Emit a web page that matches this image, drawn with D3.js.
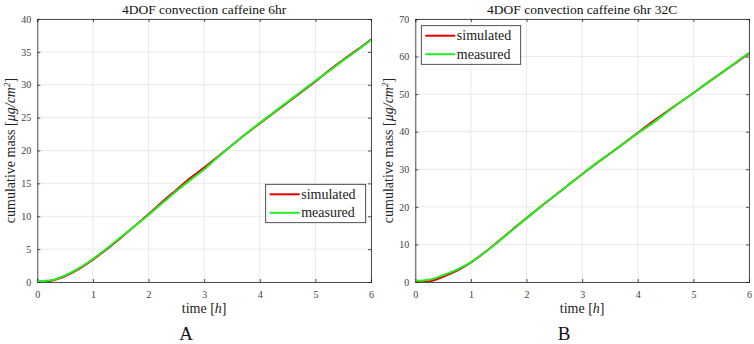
<!DOCTYPE html>
<html>
<head>
<meta charset="utf-8">
<script src="https://cdn.jsdelivr.net/npm/d3@7"></script>
<style>
  body { margin: 0; background: #fff; }
  svg { display: block; }
</style>
</head>
<body>
<svg id="chart" width="754" height="344"></svg>
<script>
const times = [0,0.25,0.5,0.75,1,1.25,1.5,1.75,2,2.25,2.5,2.75,3,3.25,3.5,3.75,4,4.25,4.5,4.75,5,5.25,5.5,5.75,6];
const simA  = [0,0.2,0.9,2.0,3.4,5.0,6.7,8.5,10.3,12.2,14.0,15.8,17.4,19.1,20.8,22.5,24.1,25.7,27.3,28.9,30.5,32.2,33.8,35.3,36.9];
const measA = [0.1,0.25,1.0,2.1,3.5,5.1,6.8,8.5,10.2,12.0,13.8,15.5,17.1,19.0,20.8,22.5,24.2,25.8,27.4,29.0,30.6,32.1,33.7,35.2,36.8];
const simB  = [0,0.2,1.4,3.0,5.2,7.9,10.9,14.0,17.0,20.0,22.9,25.8,28.7,31.5,34.2,36.9,39.7,42.5,45.1,47.7,50.3,53.0,55.6,58.2,60.8];
const measB = [0.3,0.6,1.8,3.3,5.3,7.9,10.8,13.9,17.0,20.0,22.9,25.8,28.7,31.5,34.2,36.9,39.6,42.1,44.9,47.7,50.3,53.0,55.6,58.3,61.0];
const xTicks = [0,1,2,3,4,5,6];
const yTicksA = [0,5,10,15,20,25,30,35,40];
const yTicksB = [0,10,20,30,40,50,60,70];
const titles = ["4DOF convection caffeine 6hr", "4DOF convection caffeine 6hr 32C"];
const panelLetters = ["A", "B"];
const seriesNames = ["simulated", "measured"];

const FONT = '"Liberation Serif", "Times New Roman", "DejaVu Serif", "Noto Serif", serif';
const svg = d3.select("#chart").attr("font-family", FONT).style("font-family", FONT);
const axisColor = "#262626";
const gridColor = "#e3e3e3";
const colors = ["#e00000", "#22ee22"];

function txt(sel) { return sel.style("font-family", FONT).attr("font-weight", "normal"); }

function panel(opts) {
  const g = svg.append("g");
  const x = d3.scaleLinear().domain([0, 6]).range([opts.left, opts.right]);
  const y = d3.scaleLinear().domain([0, opts.yMax]).range([opts.bottom, opts.top]);

  // grid
  g.append("g").selectAll("line").data(xTicks).join("line")
    .attr("x1", d => x(d)).attr("x2", d => x(d))
    .attr("y1", opts.top).attr("y2", opts.bottom)
    .attr("stroke", gridColor).attr("stroke-width", 0.8);
  g.append("g").selectAll("line").data(opts.yTicks).join("line")
    .attr("y1", d => y(d)).attr("y2", d => y(d))
    .attr("x1", opts.left).attr("x2", opts.right)
    .attr("stroke", gridColor).attr("stroke-width", 0.8);

  // axes with inward ticks
  const ax = d3.axisBottom(x).tickValues(xTicks).tickSize(-3).tickPadding(9).tickFormat(d3.format("d"));
  const axTop = d3.axisTop(x).tickValues(xTicks).tickSize(-3).tickFormat("");
  const ay = d3.axisLeft(y).tickValues(opts.yTicks).tickSize(-3).tickPadding(6).tickFormat(d3.format("d"));
  const ayR = d3.axisRight(y).tickValues(opts.yTicks).tickSize(-3).tickFormat("");

  function style(sel) {
    sel.attr("font-family", FONT);
    sel.selectAll("path, line").attr("stroke", axisColor).attr("stroke-width", 0.8);
    sel.selectAll("text").attr("fill", "#404040").style("font-size", "10px").style("font-family", FONT);
  }
  g.append("g").attr("transform", `translate(0,${opts.bottom})`).call(ax).call(style);
  g.append("g").attr("transform", `translate(0,${opts.top})`).call(axTop).call(style);
  g.append("g").attr("transform", `translate(${opts.left},0)`).call(ay).call(style);
  g.append("g").attr("transform", `translate(${opts.right},0)`).call(ayR).call(style);

  // lines
  const clipId = "clip" + opts.idx;
  svg.append("clipPath").attr("id", clipId).append("rect")
    .attr("x", opts.left).attr("y", opts.top)
    .attr("width", opts.right - opts.left).attr("height", opts.bottom - opts.top);
  const line = d3.line().x((d, i) => x(times[i])).y(d => y(d)).curve(d3.curveMonotoneX);
  [opts.sim, opts.meas].forEach((s, k) => {
    g.append("path").datum(s).attr("d", line)
      .attr("fill", "none").attr("stroke", colors[k]).attr("stroke-width", 2)
      .attr("clip-path", `url(#${clipId})`);
  });

  // title
  const cx = (opts.left + opts.right) / 2;
  g.append("text").attr("x", cx).attr("y", 14).attr("text-anchor", "middle")
    .call(txt).style("font-size", "13.5px").attr("fill", "#111").text(titles[opts.idx]);

  // x label
  const xl = g.append("text").attr("x", cx).attr("y", 313).attr("text-anchor", "middle")
    .call(txt).style("font-size", "14px").attr("fill", "#222");
  xl.append("tspan").text("time [");
  xl.append("tspan").style("font-style", "italic").text("h");
  xl.append("tspan").text("]");

  // y label
  const ycy = (opts.top + opts.bottom) / 2;
  const yl = g.append("text")
    .attr("transform", `translate(${opts.ylabX},${ycy}) rotate(-90)`)
    .attr("text-anchor", "middle").call(txt).style("font-size", "14px").attr("fill", "#222");
  yl.append("tspan").text("cumulative mass [");
  yl.append("tspan").style("font-style", "italic").text("μg/cm");
  yl.append("tspan").style("font-style", "italic").style("font-size", "9px").attr("dy", -5).text("2");
  yl.append("tspan").attr("dy", 5).text("]");

  // panel letter
  g.append("text").attr("x", cx - 18).attr("y", 340).attr("text-anchor", "middle")
    .call(txt).style("font-size", "19px").attr("fill", "#111").text(panelLetters[opts.idx]);

  // legend
  const L = opts.legend;
  g.append("rect").attr("x", L.x).attr("y", L.y).attr("width", L.w).attr("height", L.h)
    .attr("fill", "#fff").attr("stroke", axisColor).attr("stroke-width", 0.8);
  seriesNames.forEach((name, k) => {
    const yy = L.y + 10 + k * 18.5;
    g.append("line").attr("x1", L.x + 4).attr("x2", L.x + 34).attr("y1", yy).attr("y2", yy)
      .attr("stroke", colors[k]).attr("stroke-width", 2);
    g.append("text").attr("x", L.x + 35.5).attr("y", yy + 4.5)
      .call(txt).style("font-size", "14px").attr("fill", "#222").text(name);
  });
}

panel({idx: 0, left: 37.3, right: 371, top: 19, bottom: 282, yMax: 40, yTicks: yTicksA,
  sim: simA, meas: measA, ylabX: 15, legend: {x: 265.7, y: 184.3, w: 100, h: 38.4}});
panel({idx: 1, left: 415.3, right: 749, top: 19, bottom: 282, yMax: 70, yTicks: yTicksB,
  sim: simB, meas: measB, ylabX: 393, legend: {x: 421.3, y: 25.7, w: 99.4, h: 38.6}});
</script>
</body>
</html>
